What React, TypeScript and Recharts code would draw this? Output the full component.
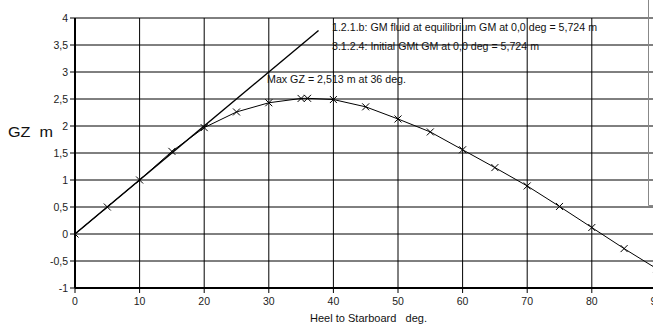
import React from "react";
import { LineChart, Line, XAxis, YAxis, CartesianGrid } from "recharts";

// Heel angles (deg) and GZ values (m) of the righting-lever curve
const heelDeg = [0, 5, 10, 15, 20, 25, 30, 35, 36, 40, 45, 50, 55, 60, 65, 70, 75, 80, 85, 90];
const gzValues = [0, 0.5, 1.0, 1.53, 1.97, 2.26, 2.43, 2.51, 2.513, 2.49, 2.355, 2.13, 1.89, 1.56, 1.23, 0.89, 0.51, 0.12, -0.27, -0.64];

// Initial GM tangent line (GM = 5,724 m at 57.3 deg)
const gmLineDeg = [0, 37.7];
const gmLineValues = [0, 3.77];

const xTicks = [0, 10, 20, 30, 40, 50, 60, 70, 80, 90];
const yTicks = [-1, -0.5, 0, 0.5, 1, 1.5, 2, 2.5, 3, 3.5, 4];

const annotationLines = [
  "1.2.1.b: GM fluid at equilibrium GM at 0,0 deg = 5,724 m",
  "3.1.2.4: Initial GMt GM at 0,0 deg = 5,724 m",
];
const maxLabel = "Max GZ = 2,513 m at 36 deg.";
const xTitle = "Heel to Starboard   deg.";
const yTitle = "GZ  m";

const gzData = heelDeg.map((d, i) => ({ deg: d, gz: gzValues[i] }));
const gmData = gmLineDeg.map((d, i) => ({ deg: d, gz: gmLineValues[i] }));

const FONT = "'Liberation Sans', Arial, Helvetica, sans-serif";

const Cross = (props: any) => {
  const { cx, cy, index } = props;
  if (cx == null || cy == null) return <g key={`c-${index}`} />;
  const s = 3.5;
  return (
    <g key={`c-${index}`}>
      <line x1={cx - s} y1={cy - s} x2={cx + s} y2={cy + s} stroke="#000" strokeWidth={1} />
      <line x1={cx - s} y1={cy + s} x2={cx + s} y2={cy - s} stroke="#000" strokeWidth={1} />
    </g>
  );
};

const fmt = (v: number) => String(v).replace(".", ",");

export default function App() {
  return (
    <div
      style={{
        position: "absolute",
        left: 0,
        top: 0,
        width: 653,
        height: 325,
        overflow: "hidden",
        background: "#fff",
      }}
    >
      <LineChart
        width={720}
        height={325}
        margin={{ top: 18, right: 63.6, left: 0, bottom: 7 }}
        style={{ fontFamily: FONT }}
      >
        <CartesianGrid stroke="#000" strokeWidth={1} />
        <XAxis
          dataKey="deg"
          type="number"
          domain={[0, 90]}
          ticks={xTicks}
          height={30}
          tickSize={5}
          tickMargin={5}
          tick={{ fontSize: 10.5, fill: "#222", fontFamily: FONT }}
          axisLine={{ stroke: "#000", strokeWidth: 2 }}
          tickLine={{ stroke: "#000" }}
          allowDataOverflow
        />
        <YAxis
          type="number"
          domain={[-1, 4]}
          ticks={yTicks}
          width={75}
          tickSize={5}
          tickMargin={2}
          tickFormatter={fmt}
          tick={{ fontSize: 10.5, fill: "#222", fontFamily: FONT }}
          axisLine={{ stroke: "#000", strokeWidth: 2 }}
          tickLine={{ stroke: "#000" }}
          allowDataOverflow
        />
        <Line
          data={gmData}
          dataKey="gz"
          type="linear"
          stroke="#000"
          strokeWidth={1.4}
          dot={false}
          isAnimationActive={false}
        />
        <Line
          data={gzData}
          dataKey="gz"
          type="linear"
          stroke="#000"
          strokeWidth={1}
          dot={Cross}
          activeDot={false}
          isAnimationActive={false}
        />
      </LineChart>
      <svg
        width={653}
        height={325}
        style={{ position: "absolute", left: 0, top: 0, pointerEvents: "none" }}
      >
        <g fontFamily={FONT} fill="#111">
          <text x={332} y={31} fontSize={10.5} textLength={265} lengthAdjust="spacingAndGlyphs">{annotationLines[0]}</text>
          <text x={332} y={50} fontSize={10.5} textLength={207} lengthAdjust="spacingAndGlyphs">{annotationLines[1]}</text>
          <text x={267} y={82.5} fontSize={10.5} textLength={139} lengthAdjust="spacingAndGlyphs">{maxLabel}</text>
          <text x={310} y={322} fontSize={10.3} textLength={117} lengthAdjust="spacingAndGlyphs" style={{ whiteSpace: "pre" }}>{xTitle}</text>
          <text x={8} y={137} fontSize={14} textLength={45} lengthAdjust="spacingAndGlyphs" style={{ whiteSpace: "pre" }}>{yTitle}</text>
        </g>
        <path d="M648.5,0 L648.5,205.5 L660,205.5" fill="none" stroke="#888" strokeWidth={1} />
      </svg>
    </div>
  );
}
